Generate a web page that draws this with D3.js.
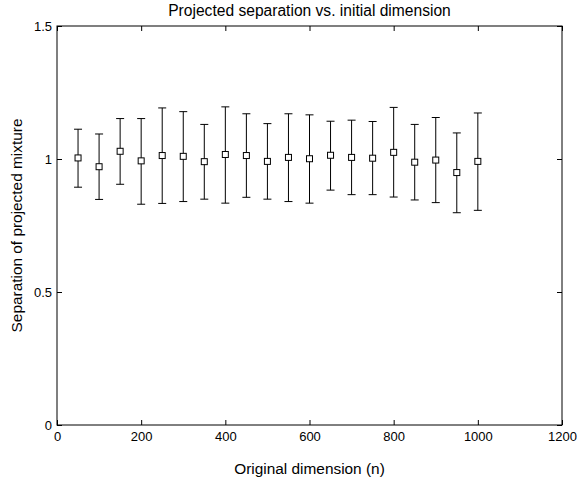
<!DOCTYPE html>
<html>
<head>
<meta charset="utf-8">
<script src="https://cdn.jsdelivr.net/npm/d3@7"></script>
<style>
  body { margin: 0; background: #fff; }
  text { font-family: "Liberation Sans", Arial, sans-serif; fill: #000; }
</style>
</head>
<body>
<div id="chart"></div>
<script>
// data
var dims = [50, 100, 150, 200, 250, 300, 350, 400, 450, 500, 550, 600, 650, 700, 750, 800, 850, 900, 950, 1000];
var means = [1.004, 0.971, 1.029, 0.993, 1.013, 1.010, 0.990, 1.017, 1.013, 0.991, 1.006, 1.001, 1.014, 1.006, 1.003, 1.025, 0.988, 0.996, 0.949, 0.991];
var upper = [1.112, 1.094, 1.152, 1.152, 1.192, 1.178, 1.130, 1.196, 1.170, 1.133, 1.170, 1.166, 1.142, 1.146, 1.141, 1.194, 1.130, 1.156, 1.098, 1.173];
var lower = [0.894, 0.848, 0.905, 0.830, 0.833, 0.840, 0.849, 0.834, 0.856, 0.849, 0.840, 0.834, 0.883, 0.866, 0.866, 0.857, 0.846, 0.836, 0.798, 0.807];
var xTicks = [0, 200, 400, 600, 800, 1000, 1200];
var yTicks = [0, 0.5, 1, 1.5];

var width = 577, height = 477;
var margin = { top: 26, right: 15, bottom: 52, left: 57 };
var innerW = width - margin.left - margin.right;
var innerH = height - margin.top - margin.bottom;

var data = dims.map(function (d, i) {
    return { n: d, m: means[i], lo: lower[i], hi: upper[i] };
});

var svg = d3.select("#chart").append("svg")
    .attr("width", width)
    .attr("height", height);

var g = svg.append("g")
    .attr("transform", "translate(" + margin.left + "," + margin.top + ")");

var x = d3.scaleLinear().domain([0, 1200]).range([0, innerW]);
var y = d3.scaleLinear().domain([0, 1.5]).range([innerH, 0]);

// axes with inward ticks, matlab style
function styleAxis(sel) {
    sel.select(".domain").remove();
    sel.selectAll("line").attr("stroke", "#000");
    sel.selectAll("text").style("font-size", "13px");
}

g.append("g")
    .attr("transform", "translate(0," + innerH + ")")
    .call(d3.axisBottom(x).tickValues(xTicks).tickSize(-5).tickPadding(7).tickFormat(d3.format("d")))
    .call(styleAxis);

g.append("g")
    .call(d3.axisTop(x).tickValues(xTicks).tickSize(-5).tickFormat(""))
    .call(styleAxis);

g.append("g")
    .call(d3.axisLeft(y).tickValues(yTicks).tickSize(-5).tickPadding(5).tickFormat(function (d) { return d; }))
    .call(styleAxis);

g.append("g")
    .attr("transform", "translate(" + innerW + ",0)")
    .call(d3.axisRight(y).tickValues(yTicks).tickSize(-5).tickFormat(""))
    .call(styleAxis);

g.append("rect")
    .attr("width", innerW)
    .attr("height", innerH)
    .attr("fill", "none")
    .attr("stroke", "#000")
    .attr("stroke-width", 1);

// error bars
var bars = g.append("g").selectAll("g.bar")
    .data(data)
    .enter()
    .append("g")
    .attr("class", "bar");

bars.append("line")
    .attr("x1", function (d) { return x(d.n); })
    .attr("x2", function (d) { return x(d.n); })
    .attr("y1", function (d) { return y(d.lo); })
    .attr("y2", function (d) { return y(d.hi); })
    .attr("stroke", "#000");

bars.append("line")
    .attr("x1", function (d) { return x(d.n) - 4; })
    .attr("x2", function (d) { return x(d.n) + 4; })
    .attr("y1", function (d) { return y(d.hi); })
    .attr("y2", function (d) { return y(d.hi); })
    .attr("stroke", "#000");

bars.append("line")
    .attr("x1", function (d) { return x(d.n) - 4; })
    .attr("x2", function (d) { return x(d.n) + 4; })
    .attr("y1", function (d) { return y(d.lo); })
    .attr("y2", function (d) { return y(d.lo); })
    .attr("stroke", "#000");

bars.append("rect")
    .attr("x", function (d) { return x(d.n) - 3; })
    .attr("y", function (d) { return y(d.m) - 3; })
    .attr("width", 6)
    .attr("height", 6)
    .attr("fill", "#fff")
    .attr("stroke", "#000");

// labels
svg.append("text")
    .attr("x", margin.left + innerW / 2)
    .attr("y", 16)
    .style("text-anchor", "middle")
    .style("font-size", "15.6px")
    .text("Projected separation vs. initial dimension");

svg.append("text")
    .attr("x", margin.left + innerW / 2)
    .attr("y", 474)
    .style("text-anchor", "middle")
    .style("font-size", "15.4px")
    .text("Original dimension (n)");

svg.append("text")
    .attr("transform", "rotate(-90)")
    .attr("x", -(margin.top + innerH / 2))
    .attr("y", 22)
    .style("text-anchor", "middle")
    .style("font-size", "15.4px")
    .text("Separation of projected mixture");
</script>
</body>
</html>
